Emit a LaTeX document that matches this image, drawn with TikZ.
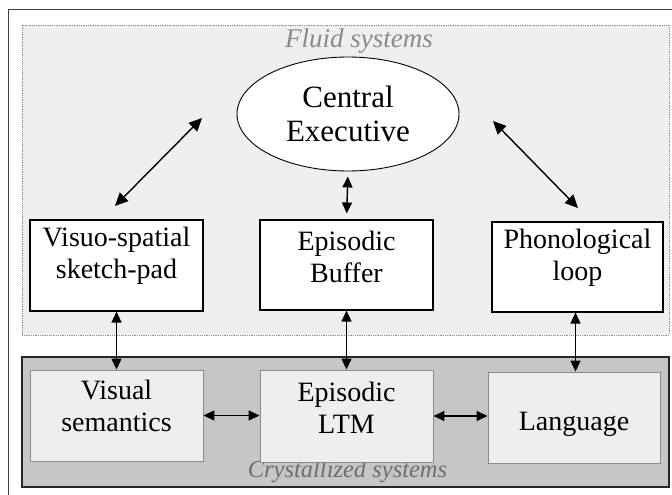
\documentclass[tikz,border=0pt]{standalone}
\usepackage{fontspec}
\setmainfont{Liberation Serif}
\usetikzlibrary{arrows.meta,shapes.geometric}

\definecolor{fluidbg}{HTML}{EFEFEF}
\definecolor{crystbg}{HTML}{C6C6C6}
\definecolor{ltmbg}{HTML}{EEEEEE}
\definecolor{ltmline}{HTML}{8C8C8C}
\definecolor{fluidtitle}{HTML}{8A8A8A}
\definecolor{crysttitle}{HTML}{6E6E6E}

\tikzset{
  wmbox/.style={draw=black, line width=1.1pt, fill=white, inner sep=0pt},
  ltmbox/.style={draw=ltmline, line width=0.9pt, fill=ltmbg, inner sep=0pt},
  boxtext/.style={align=center, inner sep=0pt, font=\fontsize{28}{32}\selectfont},
  title/.style={inner sep=0pt, anchor=base, font=\fontsize{24}{28}\selectfont\itshape},
  link/.style={line width=1.4pt, {Triangle[length=11pt,width=10pt]}-{Triangle[length=11pt,width=10pt]}},
  biglink/.style={line width=1.4pt, {Triangle[length=13pt,width=12pt]}-{Triangle[length=13pt,width=12pt]}}
}

\begin{document}
\begin{tikzpicture}[x=1pt, y=-1pt]
  \useasboundingbox (0,0) rectangle (672,495);

  % page frame
  \draw[line width=1pt, black!75] (8,495) -- (8,10) -- (672,10);

  % the two system regions
  \node[draw=black!45, densely dotted, line width=0.8pt, fill=fluidbg,
        minimum width=647pt, minimum height=310pt, inner sep=0pt] (fluid) at (345.5,180) {};
  \node[draw=black!85, line width=1.6pt, fill=crystbg,
        minimum width=647pt, minimum height=130pt, inner sep=0pt] (cryst) at (345.5,422) {};

  \node[title, text=fluidtitle, font=\fontsize{27}{30}\selectfont\itshape] (fluidlbl) at (359,48) {Fluid systems};
  \node[title, text=crysttitle, font=\fontsize{24.5}{28}\selectfont\itshape] (crystlbl) at (347.5,477) {Crystallized systems};

  % central executive
  \node[ellipse, draw=black, line width=0.9pt, fill=white, minimum width=222pt,
        minimum height=114pt, inner sep=0pt, align=center,
        font=\fontsize{31}{34}\selectfont] (ce) at (348,114) {Central\\Executive};

  % slave systems
  \node[wmbox, minimum width=173pt, minimum height=91pt] (vs) at (116.5,265.5) {};
  \node[wmbox, minimum width=173pt, minimum height=90pt] (eb) at (346.5,265) {};
  \node[wmbox, minimum width=171pt, minimum height=90pt] (pl) at (577.5,267) {};

  \node[boxtext] (vst) at (116.5,256) {Visuo-spatial\\sketch-pad};
  \node[boxtext] (ebt) at (346.5,257) {Episodic\\Buffer};
  \node[boxtext] (plt) at (577.5,257.5) {Phonological\\loop};

  % long-term stores
  \node[ltmbox, minimum width=173pt, minimum height=91pt] (vis) at (116.5,415.5) {};
  \node[ltmbox, minimum width=173pt, minimum height=92pt] (ltm) at (346.5,416) {};
  \node[ltmbox, minimum width=172pt, minimum height=91pt] (lang) at (574,417.5) {};

  \node[boxtext] (vist) at (116.5,405.5) {Visual\\semantics};
  \node[boxtext] (ltmt) at (346.5,407.5) {Episodic\\LTM};
  \node[boxtext] (langt) at (574,424) {Language};

  % links to the central executive
  \coordinate (vsend) at (115,206);
  \coordinate (celeft) at (202,118);
  \coordinate (ceright) at (493,121);
  \coordinate (plend) at (578,208);
  \draw[biglink] (vsend) -- (celeft);
  \draw[biglink] (ceright) -- (plend);
  \draw[link, shorten <=5pt, shorten >=6pt] (ce.south) -- (eb.north);

  % links between working memory and long-term memory
  \draw[link] (vs.south) -- (vs.south |- vis.north);
  \draw[link] (eb.south) -- (eb.south |- ltm.north);
  \draw[link] ([xshift=-2pt]pl.south) -- ([xshift=-2pt]pl.south |- lang.north);

  % links within long-term memory
  \draw[link] (vis.east) -- (vis.east -| ltm.west);
  \draw[link] (ltm.east) -- (ltm.east -| lang.west);
\end{tikzpicture}
\end{document}
